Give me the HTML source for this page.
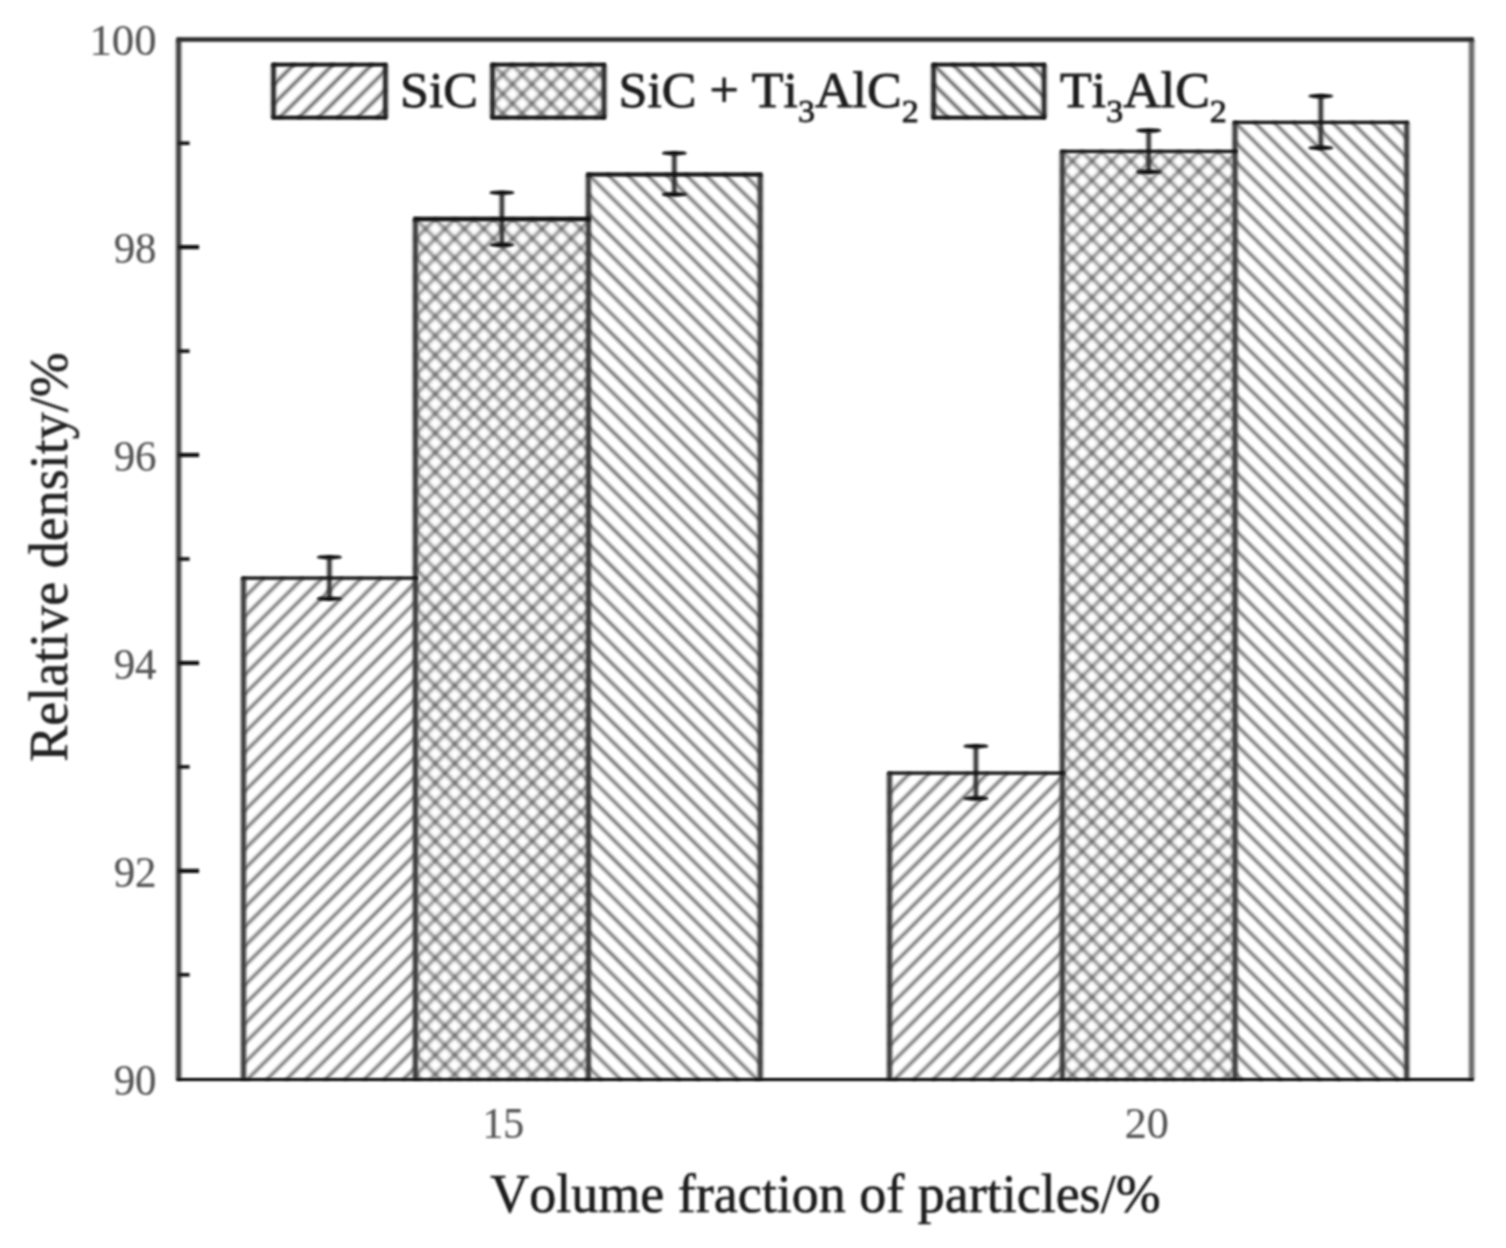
<!DOCTYPE html>
<html lang="en"><head><meta charset="utf-8"><title>Relative density vs volume fraction of particles</title>
<style>
html,body{margin:0;padding:0;background:#fff;}
body{width:1506px;height:1248px;overflow:hidden;}
svg{display:block;}
text{font-family:"Liberation Serif","DejaVu Serif",serif;stroke-linejoin:round;font-kerning:none;}
.tk{font-size:45px;fill:#555;stroke:#555;stroke-width:0.2px;}
.lb{font-size:54px;fill:#1c1c1c;stroke:#1c1c1c;stroke-width:0.6px;}
.yl{stroke-width:0.5px;fill:#222;stroke:#222;}
.lg{font-size:52px;fill:#1c1c1c;stroke:#1c1c1c;stroke-width:0.9px;}
</style></head><body>
<svg width="1506" height="1248" viewBox="0 0 1506 1248" role="img" aria-label="Bar chart of relative density versus volume fraction of particles">
<defs>
<filter id="bh" filterUnits="userSpaceOnUse" x="0" y="0" width="1506" height="1248"><feGaussianBlur stdDeviation="1.1"/><feGaussianBlur stdDeviation="1.1"/></filter>
<filter id="bx" filterUnits="userSpaceOnUse" x="0" y="0" width="1506" height="1248"><feGaussianBlur stdDeviation="1.1"/><feGaussianBlur stdDeviation="1.6"/></filter>
<filter id="bv" filterUnits="userSpaceOnUse" x="0" y="0" width="1506" height="1248"><feGaussianBlur stdDeviation="1.6"/></filter>
<filter id="bl" filterUnits="userSpaceOnUse" x="0" y="0" width="1506" height="1248"><feGaussianBlur stdDeviation="1.1"/></filter>
<filter id="bt" filterUnits="userSpaceOnUse" x="0" y="0" width="1506" height="1248"><feGaussianBlur stdDeviation="1.1"/></filter>
<clipPath id="c1"><rect x="243.5" y="578.1" width="171.9" height="501.4"/></clipPath>
<clipPath id="c2"><rect x="415.4" y="219.0" width="173.0" height="860.5"/></clipPath>
<clipPath id="c3"><rect x="588.4" y="174.5" width="171.8" height="905.0"/></clipPath>
<clipPath id="c4"><rect x="889.5" y="773.2" width="172.8" height="306.3"/></clipPath>
<clipPath id="c5"><rect x="1062.3" y="151.4" width="172.7" height="928.1"/></clipPath>
<clipPath id="c6"><rect x="1235.0" y="122.3" width="171.7" height="957.2"/></clipPath>
<clipPath id="c7"><rect x="273.5" y="64.6" width="111.9" height="53.1"/></clipPath>
<clipPath id="c8"><rect x="492.5" y="64.6" width="111.5" height="53.1"/></clipPath>
<clipPath id="c9"><rect x="933.6" y="64.6" width="110.5" height="53.1"/></clipPath>
</defs>
<rect x="0" y="0" width="1506" height="1248" fill="#fff"/>
<g id="hatching" filter="url(#bh)">
<g clip-path="url(#c1)" fill="none">
<path d="M243.5 578.9L415.4 407.9M243.5 598.3L415.4 427.3M243.5 617.7L415.4 446.7M243.5 637.1L415.4 466.1M243.5 656.5L415.4 485.5M243.5 675.9L415.4 504.9M243.5 695.3L415.4 524.3M243.5 714.7L415.4 543.7M243.5 734.1L415.4 563.1M243.5 753.5L415.4 582.5M243.5 772.9L415.4 601.9M243.5 792.3L415.4 621.3M243.5 811.7L415.4 640.7M243.5 831.1L415.4 660.1M243.5 850.5L415.4 679.5M243.5 869.9L415.4 698.9M243.5 889.3L415.4 718.3M243.5 908.7L415.4 737.7M243.5 928.1L415.4 757.1M243.5 947.5L415.4 776.5M243.5 966.9L415.4 795.9M243.5 986.3L415.4 815.3M243.5 1005.7L415.4 834.7M243.5 1025.1L415.4 854.1M243.5 1044.5L415.4 873.5M243.5 1063.9L415.4 892.9M243.5 1083.3L415.4 912.3M243.5 1102.7L415.4 931.7M243.5 1122.1L415.4 951.1M243.5 1141.5L415.4 970.5M243.5 1160.9L415.4 989.9M243.5 1180.3L415.4 1009.3M243.5 1199.7L415.4 1028.7M243.5 1219.1L415.4 1048.1M243.5 1238.5L415.4 1067.5" stroke="#333" stroke-width="2.1"/>
</g>
<g clip-path="url(#c3)" fill="none">
<path d="M588.4 -0.1L760.2 170.8M588.4 19.3L760.2 190.2M588.4 38.7L760.2 209.6M588.4 58.1L760.2 229.0M588.4 77.5L760.2 248.4M588.4 96.9L760.2 267.8M588.4 116.3L760.2 287.2M588.4 135.7L760.2 306.6M588.4 155.1L760.2 326.0M588.4 174.5L760.2 345.4M588.4 193.9L760.2 364.8M588.4 213.3L760.2 384.2M588.4 232.7L760.2 403.6M588.4 252.1L760.2 423.0M588.4 271.5L760.2 442.4M588.4 290.9L760.2 461.8M588.4 310.3L760.2 481.2M588.4 329.7L760.2 500.6M588.4 349.1L760.2 520.0M588.4 368.5L760.2 539.4M588.4 387.9L760.2 558.8M588.4 407.3L760.2 578.2M588.4 426.7L760.2 597.6M588.4 446.1L760.2 617.0M588.4 465.5L760.2 636.4M588.4 484.9L760.2 655.8M588.4 504.3L760.2 675.2M588.4 523.7L760.2 694.6M588.4 543.1L760.2 714.0M588.4 562.5L760.2 733.4M588.4 581.9L760.2 752.8M588.4 601.3L760.2 772.2M588.4 620.7L760.2 791.6M588.4 640.1L760.2 811.0M588.4 659.5L760.2 830.4M588.4 678.9L760.2 849.8M588.4 698.3L760.2 869.2M588.4 717.7L760.2 888.6M588.4 737.1L760.2 908.0M588.4 756.5L760.2 927.4M588.4 775.9L760.2 946.8M588.4 795.3L760.2 966.2M588.4 814.7L760.2 985.6M588.4 834.1L760.2 1005.0M588.4 853.5L760.2 1024.4M588.4 872.9L760.2 1043.8M588.4 892.3L760.2 1063.2M588.4 911.7L760.2 1082.6M588.4 931.1L760.2 1102.0M588.4 950.5L760.2 1121.4M588.4 969.9L760.2 1140.8M588.4 989.3L760.2 1160.2M588.4 1008.7L760.2 1179.6M588.4 1028.1L760.2 1199.0M588.4 1047.5L760.2 1218.4M588.4 1066.9L760.2 1237.8" stroke="#333" stroke-width="2.15"/>
</g>
<g clip-path="url(#c4)" fill="none">
<path d="M889.5 774.0L1062.3 602.1M889.5 793.4L1062.3 621.5M889.5 812.8L1062.3 640.9M889.5 832.2L1062.3 660.3M889.5 851.6L1062.3 679.7M889.5 871.0L1062.3 699.1M889.5 890.4L1062.3 718.5M889.5 909.8L1062.3 737.9M889.5 929.2L1062.3 757.3M889.5 948.6L1062.3 776.7M889.5 968.0L1062.3 796.1M889.5 987.4L1062.3 815.5M889.5 1006.8L1062.3 834.9M889.5 1026.2L1062.3 854.3M889.5 1045.6L1062.3 873.7M889.5 1065.0L1062.3 893.1M889.5 1084.4L1062.3 912.5M889.5 1103.8L1062.3 931.9M889.5 1123.2L1062.3 951.3M889.5 1142.6L1062.3 970.7M889.5 1162.0L1062.3 990.1M889.5 1181.4L1062.3 1009.5M889.5 1200.8L1062.3 1028.9M889.5 1220.2L1062.3 1048.3M889.5 1239.6L1062.3 1067.7" stroke="#333" stroke-width="2.1"/>
</g>
<g clip-path="url(#c6)" fill="none">
<path d="M1235.0 -52.3L1406.7 118.5M1235.0 -32.9L1406.7 137.9M1235.0 -13.5L1406.7 157.3M1235.0 5.9L1406.7 176.7M1235.0 25.3L1406.7 196.1M1235.0 44.7L1406.7 215.5M1235.0 64.1L1406.7 234.9M1235.0 83.5L1406.7 254.3M1235.0 102.9L1406.7 273.7M1235.0 122.3L1406.7 293.1M1235.0 141.7L1406.7 312.5M1235.0 161.1L1406.7 331.9M1235.0 180.5L1406.7 351.3M1235.0 199.9L1406.7 370.7M1235.0 219.3L1406.7 390.1M1235.0 238.7L1406.7 409.5M1235.0 258.1L1406.7 428.9M1235.0 277.5L1406.7 448.3M1235.0 296.9L1406.7 467.7M1235.0 316.3L1406.7 487.1M1235.0 335.7L1406.7 506.5M1235.0 355.1L1406.7 525.9M1235.0 374.5L1406.7 545.3M1235.0 393.9L1406.7 564.7M1235.0 413.3L1406.7 584.1M1235.0 432.7L1406.7 603.5M1235.0 452.1L1406.7 622.9M1235.0 471.5L1406.7 642.3M1235.0 490.9L1406.7 661.7M1235.0 510.3L1406.7 681.1M1235.0 529.7L1406.7 700.5M1235.0 549.1L1406.7 719.9M1235.0 568.5L1406.7 739.3M1235.0 587.9L1406.7 758.7M1235.0 607.3L1406.7 778.1M1235.0 626.7L1406.7 797.5M1235.0 646.1L1406.7 816.9M1235.0 665.5L1406.7 836.3M1235.0 684.9L1406.7 855.7M1235.0 704.3L1406.7 875.1M1235.0 723.7L1406.7 894.5M1235.0 743.1L1406.7 913.9M1235.0 762.5L1406.7 933.3M1235.0 781.9L1406.7 952.7M1235.0 801.3L1406.7 972.1M1235.0 820.7L1406.7 991.5M1235.0 840.1L1406.7 1010.9M1235.0 859.5L1406.7 1030.3M1235.0 878.9L1406.7 1049.7M1235.0 898.3L1406.7 1069.1M1235.0 917.7L1406.7 1088.5M1235.0 937.1L1406.7 1107.9M1235.0 956.5L1406.7 1127.3M1235.0 975.9L1406.7 1146.7M1235.0 995.3L1406.7 1166.1M1235.0 1014.7L1406.7 1185.5M1235.0 1034.1L1406.7 1204.9M1235.0 1053.5L1406.7 1224.3M1235.0 1072.9L1406.7 1243.7" stroke="#333" stroke-width="2.15"/>
</g>
<g clip-path="url(#c7)" fill="none">
<path d="M273.5 65.4L385.4 -45.9M273.5 84.8L385.4 -26.5M273.5 104.2L385.4 -7.1M273.5 123.6L385.4 12.3M273.5 143.0L385.4 31.7M273.5 162.4L385.4 51.1M273.5 181.8L385.4 70.5M273.5 201.2L385.4 89.9M273.5 220.6L385.4 109.3" stroke="#333" stroke-width="2.4"/>
</g>
<g clip-path="url(#c9)" fill="none">
<path d="M933.6 -32.4L1044.1 77.5M933.6 -13.0L1044.1 96.9M933.6 6.4L1044.1 116.3M933.6 25.8L1044.1 135.7M933.6 45.2L1044.1 155.1M933.6 64.6L1044.1 174.5M933.6 84.0L1044.1 193.9M933.6 103.4L1044.1 213.3" stroke="#333" stroke-width="2.45"/>
</g>
</g>
<g id="crosshatching" filter="url(#bx)">
<g clip-path="url(#c2)" fill="none">
<path d="M415.4 219.6L588.4 46.2M415.4 239.0L588.4 65.7M415.4 258.5L588.4 85.1M415.4 277.9L588.4 104.6M415.4 297.4L588.4 124.0M415.4 316.8L588.4 143.4M415.4 336.2L588.4 162.9M415.4 355.7L588.4 182.3M415.4 375.1L588.4 201.8M415.4 394.6L588.4 221.2M415.4 414.0L588.4 240.6M415.4 433.4L588.4 260.1M415.4 452.9L588.4 279.5M415.4 472.3L588.4 299.0M415.4 491.8L588.4 318.4M415.4 511.2L588.4 337.8M415.4 530.6L588.4 357.3M415.4 550.1L588.4 376.7M415.4 569.5L588.4 396.2M415.4 589.0L588.4 415.6M415.4 608.4L588.4 435.0M415.4 627.8L588.4 454.5M415.4 647.3L588.4 473.9M415.4 666.7L588.4 493.4M415.4 686.2L588.4 512.8M415.4 705.6L588.4 532.2M415.4 725.0L588.4 551.7M415.4 744.5L588.4 571.1M415.4 763.9L588.4 590.6M415.4 783.4L588.4 610.0M415.4 802.8L588.4 629.4M415.4 822.2L588.4 648.9M415.4 841.7L588.4 668.3M415.4 861.1L588.4 687.8M415.4 880.6L588.4 707.2M415.4 900.0L588.4 726.6M415.4 919.4L588.4 746.1M415.4 938.9L588.4 765.5M415.4 958.3L588.4 785.0M415.4 977.8L588.4 804.4M415.4 997.2L588.4 823.8M415.4 1016.6L588.4 843.3M415.4 1036.1L588.4 862.7M415.4 1055.5L588.4 882.2M415.4 1075.0L588.4 901.6M415.4 1094.4L588.4 921.0M415.4 1113.8L588.4 940.5M415.4 1133.3L588.4 959.9M415.4 1152.7L588.4 979.4M415.4 1172.2L588.4 998.8M415.4 1191.6L588.4 1018.2M415.4 1211.0L588.4 1037.7M415.4 1230.5L588.4 1057.1M415.4 1249.9L588.4 1076.6" stroke="#333" stroke-width="1.9"/>
<path d="M415.4 43.6L588.4 217.0M415.4 63.1L588.4 236.4M415.4 82.5L588.4 255.9M415.4 102.0L588.4 275.3M415.4 121.4L588.4 294.8M415.4 140.8L588.4 314.2M415.4 160.3L588.4 333.6M415.4 179.7L588.4 353.1M415.4 199.2L588.4 372.5M415.4 218.6L588.4 392.0M415.4 238.0L588.4 411.4M415.4 257.5L588.4 430.8M415.4 276.9L588.4 450.3M415.4 296.4L588.4 469.7M415.4 315.8L588.4 489.2M415.4 335.2L588.4 508.6M415.4 354.7L588.4 528.0M415.4 374.1L588.4 547.5M415.4 393.6L588.4 566.9M415.4 413.0L588.4 586.4M415.4 432.4L588.4 605.8M415.4 451.9L588.4 625.2M415.4 471.3L588.4 644.7M415.4 490.8L588.4 664.1M415.4 510.2L588.4 683.6M415.4 529.6L588.4 703.0M415.4 549.1L588.4 722.4M415.4 568.5L588.4 741.9M415.4 588.0L588.4 761.3M415.4 607.4L588.4 780.8M415.4 626.8L588.4 800.2M415.4 646.3L588.4 819.6M415.4 665.7L588.4 839.1M415.4 685.2L588.4 858.5M415.4 704.6L588.4 878.0M415.4 724.0L588.4 897.4M415.4 743.5L588.4 916.8M415.4 762.9L588.4 936.3M415.4 782.4L588.4 955.7M415.4 801.8L588.4 975.2M415.4 821.2L588.4 994.6M415.4 840.7L588.4 1014.0M415.4 860.1L588.4 1033.5M415.4 879.6L588.4 1052.9M415.4 899.0L588.4 1072.4M415.4 918.4L588.4 1091.8M415.4 937.9L588.4 1111.2M415.4 957.3L588.4 1130.7M415.4 976.8L588.4 1150.1M415.4 996.2L588.4 1169.6M415.4 1015.6L588.4 1189.0M415.4 1035.1L588.4 1208.4M415.4 1054.5L588.4 1227.9M415.4 1074.0L588.4 1247.3" stroke="#333" stroke-width="1.9"/>
</g>
<g clip-path="url(#c5)" fill="none">
<path d="M1062.3 152.0L1235.0 -21.1M1062.3 171.4L1235.0 -1.6M1062.3 190.9L1235.0 17.8M1062.3 210.3L1235.0 37.3M1062.3 229.8L1235.0 56.7M1062.3 249.2L1235.0 76.1M1062.3 268.6L1235.0 95.6M1062.3 288.1L1235.0 115.0M1062.3 307.5L1235.0 134.5M1062.3 327.0L1235.0 153.9M1062.3 346.4L1235.0 173.3M1062.3 365.8L1235.0 192.8M1062.3 385.3L1235.0 212.2M1062.3 404.7L1235.0 231.7M1062.3 424.2L1235.0 251.1M1062.3 443.6L1235.0 270.5M1062.3 463.0L1235.0 290.0M1062.3 482.5L1235.0 309.4M1062.3 501.9L1235.0 328.9M1062.3 521.4L1235.0 348.3M1062.3 540.8L1235.0 367.7M1062.3 560.2L1235.0 387.2M1062.3 579.7L1235.0 406.6M1062.3 599.1L1235.0 426.1M1062.3 618.6L1235.0 445.5M1062.3 638.0L1235.0 464.9M1062.3 657.4L1235.0 484.4M1062.3 676.9L1235.0 503.8M1062.3 696.3L1235.0 523.3M1062.3 715.8L1235.0 542.7M1062.3 735.2L1235.0 562.1M1062.3 754.6L1235.0 581.6M1062.3 774.1L1235.0 601.0M1062.3 793.5L1235.0 620.5M1062.3 813.0L1235.0 639.9M1062.3 832.4L1235.0 659.3M1062.3 851.8L1235.0 678.8M1062.3 871.3L1235.0 698.2M1062.3 890.7L1235.0 717.7M1062.3 910.2L1235.0 737.1M1062.3 929.6L1235.0 756.5M1062.3 949.0L1235.0 776.0M1062.3 968.5L1235.0 795.4M1062.3 987.9L1235.0 814.9M1062.3 1007.4L1235.0 834.3M1062.3 1026.8L1235.0 853.7M1062.3 1046.2L1235.0 873.2M1062.3 1065.7L1235.0 892.6M1062.3 1085.1L1235.0 912.1M1062.3 1104.6L1235.0 931.5M1062.3 1124.0L1235.0 950.9M1062.3 1143.4L1235.0 970.4M1062.3 1162.9L1235.0 989.8M1062.3 1182.3L1235.0 1009.3M1062.3 1201.8L1235.0 1028.7M1062.3 1221.2L1235.0 1048.1M1062.3 1240.6L1235.0 1067.6" stroke="#333" stroke-width="1.9"/>
<path d="M1062.3 -24.0L1235.0 149.1M1062.3 -4.5L1235.0 168.5M1062.3 14.9L1235.0 188.0M1062.3 34.4L1235.0 207.4M1062.3 53.8L1235.0 226.9M1062.3 73.2L1235.0 246.3M1062.3 92.7L1235.0 265.7M1062.3 112.1L1235.0 285.2M1062.3 131.6L1235.0 304.6M1062.3 151.0L1235.0 324.1M1062.3 170.4L1235.0 343.5M1062.3 189.9L1235.0 362.9M1062.3 209.3L1235.0 382.4M1062.3 228.8L1235.0 401.8M1062.3 248.2L1235.0 421.3M1062.3 267.6L1235.0 440.7M1062.3 287.1L1235.0 460.1M1062.3 306.5L1235.0 479.6M1062.3 326.0L1235.0 499.0M1062.3 345.4L1235.0 518.5M1062.3 364.8L1235.0 537.9M1062.3 384.3L1235.0 557.3M1062.3 403.7L1235.0 576.8M1062.3 423.2L1235.0 596.2M1062.3 442.6L1235.0 615.7M1062.3 462.0L1235.0 635.1M1062.3 481.5L1235.0 654.5M1062.3 500.9L1235.0 674.0M1062.3 520.4L1235.0 693.4M1062.3 539.8L1235.0 712.9M1062.3 559.2L1235.0 732.3M1062.3 578.7L1235.0 751.7M1062.3 598.1L1235.0 771.2M1062.3 617.6L1235.0 790.6M1062.3 637.0L1235.0 810.1M1062.3 656.4L1235.0 829.5M1062.3 675.9L1235.0 848.9M1062.3 695.3L1235.0 868.4M1062.3 714.8L1235.0 887.8M1062.3 734.2L1235.0 907.3M1062.3 753.6L1235.0 926.7M1062.3 773.1L1235.0 946.1M1062.3 792.5L1235.0 965.6M1062.3 812.0L1235.0 985.0M1062.3 831.4L1235.0 1004.5M1062.3 850.8L1235.0 1023.9M1062.3 870.3L1235.0 1043.3M1062.3 889.7L1235.0 1062.8M1062.3 909.2L1235.0 1082.2M1062.3 928.6L1235.0 1101.7M1062.3 948.0L1235.0 1121.1M1062.3 967.5L1235.0 1140.5M1062.3 986.9L1235.0 1160.0M1062.3 1006.4L1235.0 1179.4M1062.3 1025.8L1235.0 1198.9M1062.3 1045.2L1235.0 1218.3M1062.3 1064.7L1235.0 1237.7M1062.3 1084.1L1235.0 1257.2" stroke="#333" stroke-width="1.9"/>
</g>
<g clip-path="url(#c8)" fill="none">
<path d="M492.5 65.2L604.0 -46.5M492.5 84.6L604.0 -27.1M492.5 104.1L604.0 -7.6M492.5 123.5L604.0 11.8M492.5 143.0L604.0 31.2M492.5 162.4L604.0 50.7M492.5 181.8L604.0 70.1M492.5 201.3L604.0 89.6M492.5 220.7L604.0 109.0" stroke="#333" stroke-width="1.9"/>
<path d="M492.5 -33.0L604.0 78.7M492.5 -13.6L604.0 98.2M492.5 5.9L604.0 117.6M492.5 25.3L604.0 137.0M492.5 44.8L604.0 156.5M492.5 64.2L604.0 175.9M492.5 83.6L604.0 195.4M492.5 103.1L604.0 214.8M492.5 122.5L604.0 234.2" stroke="#333" stroke-width="1.9"/>
</g>
</g>
<g id="verticals" filter="url(#bv)" fill="none">
<path d="M243.5 578.1V1079.5" stroke="#3a3a3a" stroke-width="5.2"/>
<path d="M415.4 219.0V1079.5" stroke="#3a3a3a" stroke-width="5.2"/>
<path d="M588.4 174.5V1079.5" stroke="#3a3a3a" stroke-width="5.2"/>
<path d="M760.2 174.5V1079.5" stroke="#3a3a3a" stroke-width="5.2"/>
<path d="M329.4 557.2V598.7" stroke="#333" stroke-width="4.6"/>
<path d="M501.9 192.7V244.8" stroke="#333" stroke-width="4.6"/>
<path d="M674.3 153.2V194.4" stroke="#333" stroke-width="4.6"/>
<path d="M889.5 773.2V1079.5" stroke="#3a3a3a" stroke-width="5.2"/>
<path d="M1062.3 151.4V1079.5" stroke="#3a3a3a" stroke-width="5.2"/>
<path d="M1235.0 122.3V1079.5" stroke="#3a3a3a" stroke-width="5.2"/>
<path d="M1406.7 122.3V1079.5" stroke="#3a3a3a" stroke-width="5.2"/>
<path d="M975.9 746.2V798.4" stroke="#333" stroke-width="4.6"/>
<path d="M1148.7 130.5V171.9" stroke="#333" stroke-width="4.6"/>
<path d="M1320.8 96.1V147.9" stroke="#333" stroke-width="4.6"/>
<path d="M178.6 39.5V1079.5" stroke="#3c3c3c" stroke-width="5.2"/>
<path d="M1471.6 39.5V1079.5" stroke="#666" stroke-width="5.4"/>
<path d="M273.5 64.6V117.7" stroke="#222" stroke-width="4.8"/>
<path d="M385.4 64.6V117.7" stroke="#222" stroke-width="4.8"/>
<path d="M492.5 64.6V117.7" stroke="#222" stroke-width="4.8"/>
<path d="M604.0 64.6V117.7" stroke="#222" stroke-width="4.8"/>
<path d="M933.6 64.6V117.7" stroke="#222" stroke-width="4.8"/>
<path d="M1044.1 64.6V117.7" stroke="#222" stroke-width="4.8"/>
</g>
<g id="horizontals" filter="url(#bl)" fill="none">
<path d="M241.4 578.1H417.5" stroke="#0a0a0a" stroke-width="3.2"/>
<path d="M413.3 219.0H590.5" stroke="#0a0a0a" stroke-width="4.6"/>
<path d="M586.3 174.5H762.3" stroke="#0a0a0a" stroke-width="4.2"/>
<ellipse cx="329.4" cy="557.2" rx="12.5" ry="2.3" fill="#0c0c0c" stroke="none"/>
<ellipse cx="329.4" cy="598.7" rx="12.5" ry="2.3" fill="#0c0c0c" stroke="none"/>
<ellipse cx="501.9" cy="192.7" rx="12.5" ry="2.3" fill="#0c0c0c" stroke="none"/>
<ellipse cx="501.9" cy="244.8" rx="12.5" ry="2.3" fill="#0c0c0c" stroke="none"/>
<ellipse cx="674.3" cy="153.2" rx="12.5" ry="2.3" fill="#0c0c0c" stroke="none"/>
<ellipse cx="674.3" cy="194.4" rx="12.5" ry="2.3" fill="#0c0c0c" stroke="none"/>
<path d="M887.4 773.2H1064.4" stroke="#0a0a0a" stroke-width="3.2"/>
<path d="M1060.2 151.4H1237.1" stroke="#0a0a0a" stroke-width="3.2"/>
<path d="M1232.9 122.3H1408.8" stroke="#0a0a0a" stroke-width="3.2"/>
<ellipse cx="975.9" cy="746.2" rx="12.5" ry="2.3" fill="#0c0c0c" stroke="none"/>
<ellipse cx="975.9" cy="798.4" rx="12.5" ry="2.3" fill="#0c0c0c" stroke="none"/>
<ellipse cx="1148.7" cy="130.5" rx="12.5" ry="2.3" fill="#0c0c0c" stroke="none"/>
<ellipse cx="1148.7" cy="171.9" rx="12.5" ry="2.3" fill="#0c0c0c" stroke="none"/>
<ellipse cx="1320.8" cy="96.1" rx="12.5" ry="2.3" fill="#0c0c0c" stroke="none"/>
<ellipse cx="1320.8" cy="147.9" rx="12.5" ry="2.3" fill="#0c0c0c" stroke="none"/>
<path d="M176.5 39.5H1473.8" stroke="#2a2a2a" stroke-width="4.4"/>
<path d="M176.5 1079.5H1473.8" stroke="#000" stroke-width="3.2"/>
<path d="M178.6 143.2H189.6" stroke="#0c0c0c" stroke-width="3.6"/>
<path d="M178.6 247.1H199.1" stroke="#0c0c0c" stroke-width="4.2"/>
<path d="M178.6 351.1H189.6" stroke="#0c0c0c" stroke-width="3.6"/>
<path d="M178.6 455.0H199.1" stroke="#0c0c0c" stroke-width="4.2"/>
<path d="M178.6 559.0H189.6" stroke="#0c0c0c" stroke-width="3.6"/>
<path d="M178.6 663.0H199.1" stroke="#0c0c0c" stroke-width="4.2"/>
<path d="M178.6 766.9H189.6" stroke="#0c0c0c" stroke-width="3.6"/>
<path d="M178.6 870.9H199.1" stroke="#0c0c0c" stroke-width="4.2"/>
<path d="M178.6 974.8H189.6" stroke="#0c0c0c" stroke-width="3.6"/>
<path d="M271.6 64.6H387.3" stroke="#0a0a0a" stroke-width="3.7"/>
<path d="M271.6 117.7H387.3" stroke="#0a0a0a" stroke-width="3.7"/>
<path d="M490.6 64.6H605.9" stroke="#0a0a0a" stroke-width="3.7"/>
<path d="M490.6 117.7H605.9" stroke="#0a0a0a" stroke-width="3.7"/>
<path d="M931.7 64.6H1046.0" stroke="#0a0a0a" stroke-width="3.7"/>
<path d="M931.7 117.7H1046.0" stroke="#0a0a0a" stroke-width="3.7"/>
</g>
<g id="labels" filter="url(#bt)">
<text class="tk" transform="translate(156.6 55.2) scale(0.995 1)" text-anchor="end">100</text>
<text class="tk" transform="translate(156.6 263.1) scale(0.955 1)" text-anchor="end">98</text>
<text class="tk" transform="translate(156.6 471.0) scale(0.955 1)" text-anchor="end">96</text>
<text class="tk" transform="translate(156.6 679.0) scale(0.955 1)" text-anchor="end">94</text>
<text class="tk" transform="translate(156.6 886.9) scale(0.955 1)" text-anchor="end">92</text>
<text class="tk" transform="translate(156.6 1094.8) scale(0.955 1)" text-anchor="end">90</text>
<text class="tk" transform="translate(503.3 1138.3) scale(0.93 1)" text-anchor="middle">15</text>
<text class="tk" transform="translate(1146.8 1138.3) scale(0.98 1)" text-anchor="middle">20</text>
<text class="lb" x="825.5" y="1212.3" text-anchor="middle">Volume fraction of particles/%</text>
<text class="lb yl" transform="translate(67 557) rotate(-90)" text-anchor="middle">Relative density/%</text>
<text class="lg" transform="translate(400 106.6) scale(1 0.955)">SiC</text>
<text class="lg" transform="translate(618.5 106.6) scale(1 0.955)">SiC + Ti<tspan dy="16" font-size="34">3</tspan><tspan dy="-16">AlC</tspan><tspan dy="16" font-size="34">2</tspan></text>
<text class="lg" transform="translate(1060 106.6) scale(1 0.955)">Ti<tspan dy="16" font-size="34">3</tspan><tspan dy="-16">AlC</tspan><tspan dy="16" font-size="34">2</tspan></text>
</g>
</svg></body></html>
